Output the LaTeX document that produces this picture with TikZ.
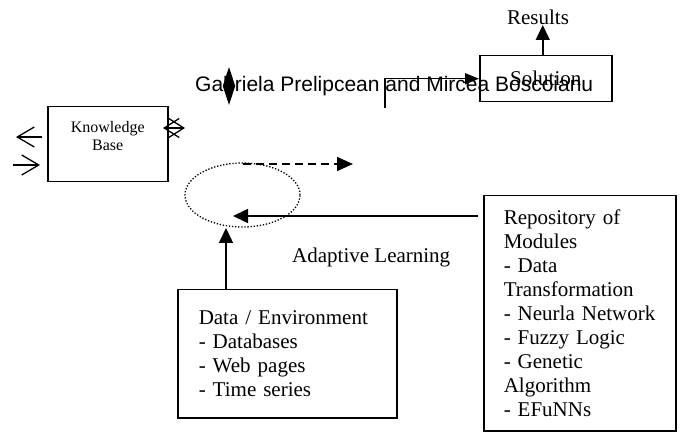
\documentclass[tikz,border=0pt]{standalone}
\usepackage{fontspec}
\setmainfont{Liberation Serif}
\newfontfamily\authorfont{Liberation Sans}
\usetikzlibrary{arrows.meta,positioning,shapes.geometric}

\begin{document}
\begin{tikzpicture}[
        x=1pt,
        y=-1pt,
        >=Stealth,
        box/.style={draw, line width=1.5pt, inner sep=0pt, anchor=north west},
        txt/.style={font=\fontsize{21}{24}\selectfont},
        flow/.style={-{Triangle[length=15pt,width=14pt]}, line width=1.5pt},
        openflow/.style={-{Straight Barb[length=17pt,width=20pt]}, line width=1.3pt}
    ]
        \useasboundingbox (0,0) rectangle (680,438);

        % Boxes and free texts.
        \node[box, txt, minimum width=132pt, minimum height=46pt] (solution) at (479,55) {Solution};
        \node[txt, anchor=base, inner sep=0pt] (results) at (538,25) {Results};
        \node[anchor=base west, inner sep=0pt, font=\authorfont\fontsize{21}{24}\selectfont] (authors) at (195,92) {Gabriela Prelipcean and Mircea Boscoianu};
        \node[box, minimum width=120pt, minimum height=75pt] (kb) at (47,106) {};
        \node[inner sep=0pt, align=center, font=\fontsize{16}{18}\selectfont, below=15pt of kb.north] (kbtext) {Knowledge\\Base};
        \node[ellipse, draw, line width=1.3pt, dash pattern=on 1.3pt off 1.8pt, minimum width=115pt, minimum height=64pt, inner sep=0pt] (loop) at (242.5,195) {};
        \node[txt, anchor=base west, inner sep=0pt] (adaptive) at (292,263) {Adaptive Learning};
        \node[box, txt, text width=177pt, inner xsep=21pt, minimum height=128pt, align=left] (data) at (177,289) {Data / Environment\\- Databases\\- Web pages\\- Time series};
        \node[box, txt, text width=152pt, inner xsep=20pt, minimum height=235pt, align=left] (repo) at (483,195) {Repository of\\Modules\\- Data\\Transformation\\- Neurla Network\\- Fuzzy Logic\\- Genetic\\Algorithm\\- EFuNNs};

        % Loose ends of the connectors.
        \coordinate (kbout) at (16,137);
        \coordinate (kboutfoot) at (42,137);
        \coordinate (kbin) at (13,165);
        \coordinate (kbinhead) at (40,165);
        \coordinate (xleft) at (163,128);
        \coordinate (xright) at (185,128);
        \coordinate (dtop) at (229,67);
        \coordinate (dbot) at (229,105);
        \coordinate (elbow) at (385,108);
        \coordinate (dashstart) at (243,164);
        \coordinate (dashend) at (353,164);
        \coordinate (loopin) at (233,216);
        \coordinate (loopbase) at (226,228);

        \draw[flow] ([xshift=-3pt]solution.north) -- ([xshift=-3pt]solution.north |- results.base);
        \draw[flow, -{Triangle[length=14pt,width=11pt]}] (elbow) |- (solution.west);
        \draw[{Triangle[length=19pt,width=12pt]}-{Triangle[length=19pt,width=12pt]}, line width=1.5pt] (dtop) -- (dbot);
        \draw[openflow] (kboutfoot) -- (kbout);
        \draw[openflow] (kbin) -- (kbinhead);
        \draw[{Straight Barb[length=15pt,width=19pt]}-{Straight Barb[length=15pt,width=19pt]}, line width=1.3pt] (xleft) -- (xright);
        \draw[flow, -{Triangle[length=16pt,width=14pt]}, dash pattern=on 8pt off 5pt] (dashstart) -- (dashend);
        \draw[flow] ([shift={(-5,21)}]repo.north west) -- (loopin);
        \draw[flow] (data.north -| loopbase) -- (loopbase);

    \end{tikzpicture}
\end{document}
